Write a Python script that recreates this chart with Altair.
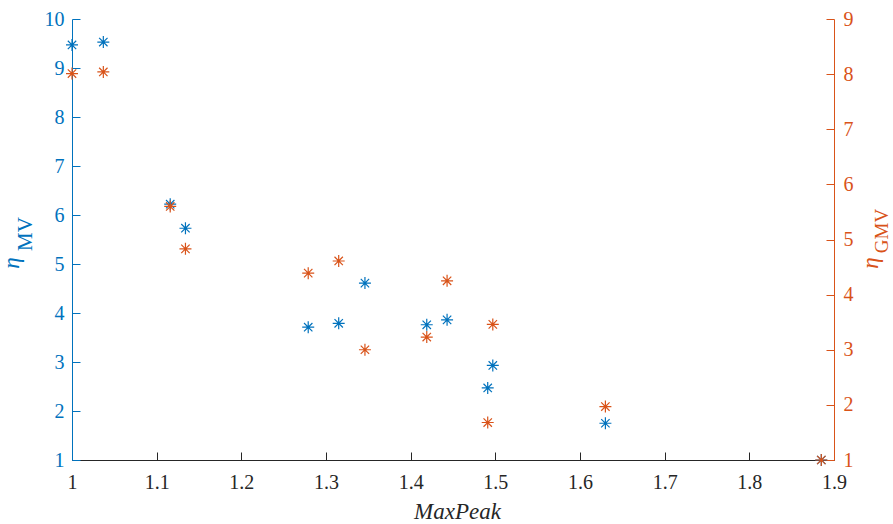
import altair as alt
import pandas as pd

# ---- data ----
max_peak = [1.000, 1.037, 1.116, 1.134, 1.279, 1.315, 1.346, 1.419, 1.443, 1.497, 1.491, 1.630, 1.885]
eta_mv   = [9.47, 9.53, 6.22, 5.73, 3.71, 3.79, 4.61, 3.76, 3.86, 2.93, 2.47, 1.75, 1.00]
eta_gmv  = [8.01, 8.04, 5.60, 4.83, 4.39, 4.61, 3.00, 3.23, 4.25, 3.46, 1.68, 1.97, 1.00]

x_ticks = [1.0, 1.1, 1.2, 1.3, 1.4, 1.5, 1.6, 1.7, 1.8, 1.9]
left_ticks = [1, 2, 3, 4, 5, 6, 7, 8, 9, 10]
right_ticks = [1, 2, 3, 4, 5, 6, 7, 8, 9]

BLUE = "#0072BD"
ORANGE = "#D95319"
DARK = "#262626"
FONT = "Liberation Serif"
ASTER = "M-1,0L1,0M0,-1L0,1M-0.7,-0.7L0.7,0.7M-0.7,0.7L0.7,-0.7"

W, H = 762, 441

df = pd.DataFrame({"MaxPeak": max_peak, "eta_MV": eta_mv, "eta_GMV": eta_gmv})

x_scale = alt.Scale(domain=[1, 1.9], nice=False, zero=False)
yl_scale = alt.Scale(domain=[1, 10], nice=False, zero=False)
yr_scale = alt.Scale(domain=[1, 9], nice=False, zero=False)

inward = {"expr": "-8"}

common = dict(labelFont=FONT, labelFontSize=20, labelFlush=False, labelOverlap=False,
              grid=False, ticks=True, tickSize=inward, domainWidth=1, tickWidth=1)

x_axis = alt.Axis(
    values=x_ticks, labelExpr="format(datum.value, '~g')", title="MaxPeak",
    domainColor=DARK, tickColor=DARK, labelColor=DARK, labelPadding=20,
    titleFont=FONT, titleFontSize=23, titleFontStyle="italic", titleFontWeight="normal",
    titleColor=DARK, titleBaseline="alphabetic", titleY=58, titleX=385, titleAlign="center",
    **common,
)

blue = alt.Chart(df).mark_point(
    shape=ASTER, size=144, filled=False, strokeWidth=1.2, color=BLUE, opacity=1
).encode(
    x=alt.X("MaxPeak:Q", scale=x_scale, axis=x_axis),
    y=alt.Y("eta_MV:Q", scale=yl_scale, axis=alt.Axis(
        orient="left", values=left_ticks, format="d", title=None, labelPadding=16,
        domainColor=BLUE, tickColor=BLUE, labelColor=BLUE, **common)),
)

orange = alt.Chart(df).mark_point(
    shape=ASTER, size=144, filled=False, strokeWidth=1.2, color=ORANGE, opacity=1
).encode(
    x=alt.X("MaxPeak:Q", scale=x_scale, axis=x_axis),
    y=alt.Y("eta_GMV:Q", scale=yr_scale, axis=alt.Axis(
        orient="right", values=right_ticks, format="d", title=None, labelPadding=17,
        domainColor=ORANGE, tickColor=ORANGE, labelColor=ORANGE, **common)),
)

def label(txt, px, py, color, size, italic=False):
    kw = dict(text=txt, angle=270, align="center", baseline="alphabetic", font=FONT,
              fontSize=size, color=color)
    if italic:
        kw["fontStyle"] = "italic"
    return alt.Chart(pd.DataFrame({"a": [0]})).mark_text(**kw).encode(
        x=alt.value(px), y=alt.value(py)
    )

titles = [
    label("η", 19 - 72, 263 - 19, BLUE, 23, italic=True),
    label("MV", 32 - 72, 234 - 19, BLUE, 21),
    label("η", 878 - 72, 263 - 19, ORANGE, 23, italic=True),
    label("GMV", 888 - 72, 231 - 19, ORANGE, 19),
]

chart = alt.layer(blue, orange, *titles).resolve_scale(y="independent").properties(
    width=W, height=H, autosize="none", background="white",
    padding={"left": 72, "top": 19, "right": 59, "bottom": 64},
).configure_view(stroke=None)

chart.save("out.html", embed_options={"renderer": "svg", "actions": False})
